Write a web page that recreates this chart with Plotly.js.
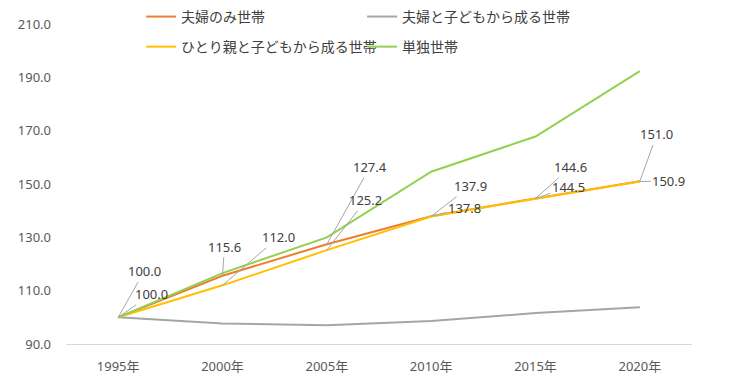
<!DOCTYPE html>
<html>
<head>
<meta charset="utf-8">
<script src="https://cdn.plot.ly/plotly-3.0.1.min.js"></script>
<style>html,body{margin:0;padding:0;background:#fff;}#chart{width:730px;height:382px;}</style>
</head>
<body>
<div id="chart"></div>
<script>
const years = ["1995年", "2000年", "2005年", "2010年", "2015年", "2020年"];
const coupleOnly = [100.0, 115.6, 127.4, 137.9, 144.6, 151.0];
const coupleChildren = [100.0, 97.7, 97.0, 98.6, 101.6, 103.8];
const singleParent = [100.0, 112.0, 125.2, 137.8, 144.5, 150.9];
const singlePerson = [100.0, 116.6, 130.0, 154.6, 167.8, 192.3];
const seriesNames = ["夫婦のみ世帯", "夫婦と子どもから成る世帯", "ひとり親と子どもから成る世帯", "単独世帯"];
const yTicks = [90, 110, 130, 150, 170, 190, 210];

// label offsets (pixels) for the labelled series
const upperOffsets = [[26,-46],[2,-29],[43,-77],[39,-30],[35,-31],[17,-47]];
const lowerOffsets = [[33,-23],[56,-48],[39,-50],[33,-9],[33,-12],[29,-1]];

const FONT = "Noto Sans, Noto Sans CJK JP, sans-serif";

function tr(y, name, color, legend) {
  return {x: years, y: y, name: name, type: "scatter", mode: "lines",
    line: {color: color, width: 2}, legend: legend, hoverinfo: "skip"};
}
const data = [
  tr(coupleOnly, seriesNames[0], "#ED7D31", "legend"),
  tr(coupleChildren, seriesNames[1], "#A5A5A5", "legend"),
  tr(singleParent, seriesNames[2], "#FFC000", "legend2"),
  tr(singlePerson, seriesNames[3], "#92D050", "legend2")
];

const annotations = [];
function addLabels(vals, offs) {
  vals.forEach((v, i) => {
    annotations.push({x: years[i], y: v, xref: "x", yref: "y",
      text: v.toFixed(1), showarrow: true, arrowhead: 0, arrowwidth: 1,
      arrowcolor: "#A6A6A6", standoff: 0, startstandoff: 0,
      ax: offs[i][0], ay: offs[i][1],
      font: {family: FONT, size: 13, color: "#404040"}});
  });
}
addLabels(coupleOnly, upperOffsets);
addLabels(singleParent, lowerOffsets);

const legendCommon = {orientation: "h", xanchor: "left", yanchor: "top",
  entrywidth: 176, entrywidthmode: "pixels", bgcolor: "rgba(0,0,0,0)",
  font: {family: "Noto Sans CJK JP, sans-serif", size: 14, color: "#404040"}};

const layout = {
  width: 730, height: 382,
  margin: {l: 66, r: 38, t: 24, b: 38, autoexpand: false},
  paper_bgcolor: "#fff", plot_bgcolor: "#fff",
  showlegend: true,
  legend: Object.assign({}, legendCommon, {x: 0.12, y: 1.072}),
  legend2: Object.assign({}, legendCommon, {x: 0.12, y: 0.978}),
  xaxis: {type: "category", categoryorder: "array", categoryarray: years,
    range: [-0.5, 5.5], showgrid: false, zeroline: false,
    showline: true, linecolor: "#D9D9D9", linewidth: 1, ticks: "",
    ticklabelstandoff: 10,
    tickfont: {family: FONT, size: 13, color: "#595959"}},
  yaxis: {range: [90, 210], tickvals: yTicks, tickformat: ".1f",
    showgrid: false, zeroline: false, showline: false, ticks: "",
    ticklabelstandoff: 14,
    tickfont: {family: FONT, size: 13, color: "#595959"}},
  annotations: annotations,
  hovermode: false
};

Plotly.newPlot("chart", data, layout, {displayModeBar: false, staticPlot: true});
</script>
</body>
</html>
